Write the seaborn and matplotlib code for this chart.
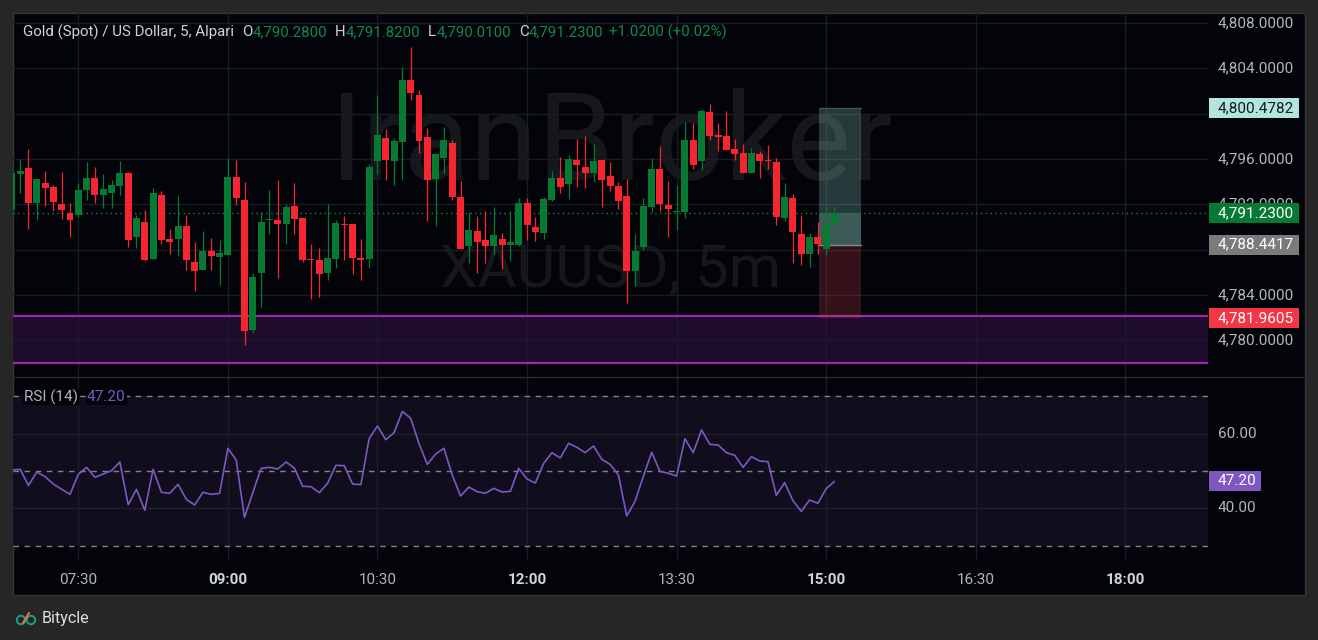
import numpy as np
import pandas as pd
import matplotlib
matplotlib.use('Agg')
import matplotlib.pyplot as plt
from matplotlib.patches import Rectangle, Circle
import seaborn as sns

# 5-minute XAUUSD candles, 06:50 .. 15:05
opens = [4791.53, 4794.71, 4795.20, 4792.12, 4793.88, 4793.53, 4792.03, 4791.24, 4791.09, 4793.29,
         4794.32, 4792.85, 4793.03, 4793.65, 4794.76, 4789.15, 4790.44, 4787.20, 4792.82, 4788.94,
         4788.97, 4790.09, 4786.91, 4786.24, 4787.88, 4787.35, 4787.53, 4794.41, 4792.38, 4780.94,
         4785.94, 4790.62, 4790.60, 4790.29, 4791.85, 4790.79, 4787.18, 4787.09, 4785.94, 4787.18,
         4790.26, 4790.26, 4787.26, 4787.18, 4795.82, 4797.85, 4795.82, 4797.50, 4802.97, 4801.65,
         4797.94, 4794.24, 4796.09, 4797.41, 4792.65, 4788.32, 4789.65, 4788.85, 4788.32, 4788.94,
         4788.41, 4788.41, 4792.12, 4790.00, 4789.47, 4792.38, 4794.32, 4793.79, 4795.91, 4795.29,
         4794.76, 4795.91, 4794.50, 4793.62, 4792.74, 4786.15, 4788.24, 4791.76, 4795.12, 4791.94,
         4791.32, 4791.32, 4797.68, 4795.82, 4800.15, 4798.12, 4798.03, 4796.88, 4796.53, 4794.76,
         4796.44, 4795.91, 4795.73, 4790.79, 4792.56, 4789.38, 4787.62, 4789.12, 4788.06, 4790.28]
highs = [4794.90, 4796.00, 4796.88, 4794.23, 4794.94, 4793.70, 4794.85, 4792.12, 4793.88, 4795.73,
         4795.29, 4794.68, 4794.15, 4795.82, 4794.85, 4791.06, 4791.50, 4793.44, 4793.18, 4789.82,
         4792.82, 4791.06, 4788.68, 4789.65, 4789.03, 4788.85, 4796.09, 4795.91, 4793.97, 4785.94,
         4791.32, 4793.26, 4794.15, 4792.03, 4793.88, 4790.79, 4788.50, 4788.15, 4792.03, 4790.62,
         4790.97, 4790.26, 4788.94, 4795.56, 4801.65, 4798.65, 4797.85, 4804.12, 4805.88, 4802.09,
         4798.74, 4796.53, 4798.82, 4797.68, 4794.06, 4791.32, 4790.97, 4791.41, 4791.76, 4789.47,
         4791.41, 4792.56, 4792.56, 4790.88, 4792.65, 4794.94, 4796.18, 4796.35, 4797.76, 4798.03,
         4797.32, 4795.91, 4795.73, 4793.97, 4794.24, 4789.38, 4792.56, 4796.09, 4797.15, 4794.06,
         4793.70, 4799.26, 4799.18, 4800.41, 4800.85, 4799.18, 4800.24, 4797.76, 4797.32, 4796.97,
         4796.71, 4797.24, 4796.09, 4793.88, 4792.91, 4791.06, 4789.47, 4790.44, 4791.85, 4791.82]
lows = [4791.40, 4793.00, 4789.85, 4790.65, 4791.88, 4791.41, 4790.74, 4789.15, 4790.91, 4792.41,
        4792.15, 4791.70, 4791.70, 4792.85, 4788.26, 4788.18, 4787.03, 4787.20, 4788.53, 4787.65,
        4787.47, 4786.24, 4784.38, 4786.24, 4786.24, 4784.91, 4787.53, 4791.97, 4779.62, 4780.68,
        4782.97, 4789.38, 4785.50, 4788.50, 4789.41, 4786.94, 4783.68, 4783.85, 4785.35, 4786.38,
        4787.09, 4785.85, 4785.32, 4786.38, 4794.68, 4794.15, 4793.70, 4794.15, 4801.20, 4796.53,
        4790.53, 4790.09, 4794.68, 4792.38, 4788.06, 4786.82, 4785.94, 4786.82, 4787.62, 4786.29,
        4787.00, 4788.32, 4788.85, 4788.76, 4788.94, 4792.29, 4793.00, 4792.47, 4793.53, 4793.44,
        4793.97, 4791.76, 4793.18, 4791.59, 4783.32, 4784.82, 4787.97, 4791.32, 4791.41, 4789.12,
        4789.74, 4790.79, 4795.12, 4795.03, 4797.68, 4796.71, 4796.79, 4795.91, 4794.76, 4794.76,
        4794.32, 4795.12, 4790.18, 4790.53, 4786.82, 4786.65, 4786.47, 4787.62, 4787.53, 4790.01]
closes = [4794.76, 4794.94, 4792.12, 4794.23, 4793.44, 4792.24, 4791.50, 4790.65, 4793.26, 4794.32,
          4792.85, 4793.35, 4793.70, 4794.76, 4788.88, 4790.79, 4787.12, 4793.00, 4788.88, 4788.71,
          4790.09, 4787.12, 4786.15, 4787.88, 4787.47, 4787.70, 4794.41, 4792.56, 4780.85, 4785.59,
          4790.44, 4790.70, 4790.29, 4791.76, 4790.70, 4787.12, 4787.12, 4785.88, 4787.26, 4790.35,
          4790.18, 4787.26, 4787.09, 4795.29, 4798.12, 4795.91, 4797.59, 4802.97, 4801.82, 4797.59,
          4794.15, 4796.44, 4797.68, 4792.65, 4788.06, 4789.74, 4788.68, 4788.32, 4789.29, 4788.41,
          4788.68, 4792.12, 4790.18, 4789.56, 4792.47, 4794.32, 4793.53, 4796.00, 4795.47, 4794.76,
          4795.82, 4794.15, 4793.62, 4792.29, 4786.15, 4787.88, 4791.85, 4795.12, 4792.03, 4791.59,
          4791.41, 4797.68, 4795.47, 4800.24, 4798.03, 4797.94, 4796.79, 4796.44, 4794.76, 4796.53,
          4795.82, 4795.82, 4790.88, 4792.65, 4789.56, 4787.62, 4789.12, 4788.50, 4790.26, 4791.23]
rsi = [50.27, 50.45, 46.16, 49.73, 48.48, 46.52, 45.09, 43.75, 49.11, 50.98,
       48.30, 49.20, 50.09, 52.41, 40.98, 45.09, 39.46, 50.45, 44.29, 44.02,
       46.43, 42.41, 40.89, 44.29, 43.75, 44.02, 56.07, 52.95, 37.59, 44.20,
       50.71, 50.98, 50.54, 52.41, 50.80, 45.89, 45.80, 44.20, 46.70, 51.52,
       51.43, 46.52, 46.34, 58.66, 62.05, 58.39, 60.27, 65.98, 64.11, 57.32,
       51.79, 54.55, 56.07, 48.93, 43.30, 45.71, 44.46, 44.02, 45.36, 44.38,
       44.55, 50.71, 47.86, 46.79, 52.05, 54.91, 53.48, 57.41, 56.34, 54.91,
       56.70, 53.13, 51.79, 48.93, 37.95, 41.88, 48.57, 55.00, 49.91, 49.38,
       48.66, 58.66, 54.91, 60.98, 57.14, 56.96, 54.91, 54.20, 50.98, 53.84,
       52.68, 52.50, 43.48, 46.88, 42.05, 39.20, 42.23, 41.34, 45.27, 47.20]

times = pd.date_range('2026-01-29 06:50', periods=len(closes), freq='5min')
tick_labels = ['07:30', '09:00', '10:30', '12:00', '13:30', '15:00', '16:30', '18:00']
bold_ticks = ['09:00', '12:00', '15:00', '18:00']
price_ticks = [4780, 4784, 4788, 4792, 4796, 4800, 4804, 4808]
rsi_grid = [40, 60]
rsi_levels = [30, 50, 70]

change, change_pct = 1.02, 0.02
target_price = 4800.4782
entry_price = 4788.4417
stop_price = 4781.9605
zone_top, zone_bottom = 4782.13, 4778.0

# colours
BG = '#02040a'
FRAME = '#262626'
GREEN = '#067a33'
RED = '#f7252f'
TXT = '#b2b5be'
GRID = '#191c24'
HDR_GREEN = '#12884a'
FS = 11

sns.set_theme(style='dark')
plt.rcParams['font.family'] = ['Roboto', 'DejaVu Sans']

W, H = 1318, 640
fig = plt.figure(figsize=(W / 100, H / 100), dpi=100, facecolor=FRAME)


def box(x0, y0, x1, y1):
    # pixel box (top-left origin) -> figure fraction rect
    return [x0 / W, 1 - y1 / H, (x1 - x0) / W, (y1 - y0) / H]


fig.patches.append(Rectangle((13 / W, 1 - 595 / H), 1292 / W, 582 / H, transform=fig.transFigure,
                             facecolor=BG, edgecolor='#363636', lw=1, zorder=-10))

ax = fig.add_axes(box(13, 13, 1208, 377))
ax_r = fig.add_axes(box(13, 377, 1208, 560))
ax_pa = fig.add_axes(box(1208, 13, 1305, 377))
ax_ra = fig.add_axes(box(1208, 377, 1305, 560))

for a in (ax, ax_r, ax_pa, ax_ra):
    a.set_facecolor('none')
    for s in a.spines.values():
        s.set_visible(False)
    a.grid(False)

x = np.arange(len(closes))
start = times[0]
tick_pos = [(pd.Timestamp(f'{start.date()} {t}') - start) / pd.Timedelta('5min') for t in tick_labels]

ax.set_xlim(0.14, 143.95)
ax_r.set_xlim(0.14, 143.95)
ax.set_ylim(4776.76, 4808.88)
ax_r.set_ylim(26.16, 75.18)
ax_pa.set_xlim(0, 97)
ax_pa.set_ylim(ax.get_ylim())
ax_ra.set_xlim(0, 97)
ax_ra.set_ylim(ax_r.get_ylim())
ax_pa.axis('off')
ax_ra.axis('off')

# grid
for p in price_ticks:
    ax.axhline(p, color=GRID, lw=1, zorder=1)
for t in tick_pos:
    ax.axvline(t, color=GRID, lw=1, zorder=1)
    ax_r.axvline(t, color='#1c1b28', lw=1, zorder=1)

# watermark
ax.text(0.5, 0.541, 'IranBroker', transform=ax.transAxes, ha='center', va='baseline',
        fontsize=88, color='#16171b', zorder=0.8)
ax.text(0.5, 0.247, 'XAUUSD, 5m', transform=ax.transAxes, ha='center', va='baseline',
        fontsize=43, color='#16171b', zorder=0.8)

# support zone
ax.axhspan(zone_bottom, zone_top, facecolor='#1f0b2c', edgecolor='none', zorder=0.5)
ax.axhline(zone_top, color='#9c27b0', lw=1.6, zorder=2)
ax.axhline(zone_bottom, color='#9c27b0', lw=1.6, zorder=2)

# long position tool
last_price = closes[-1]
px0, px1 = 97.1, 102.2
ax.add_patch(Rectangle((px0, entry_price), px1 - px0, target_price - entry_price,
                       facecolor=(146 / 255, 216 / 255, 202 / 255, 0.25), edgecolor='none', zorder=2))
ax.add_patch(Rectangle((px0, entry_price), px1 - px0, last_price - entry_price,
                       facecolor=(170 / 255, 241 / 255, 230 / 255, 0.18), edgecolor='none', zorder=2))
ax.add_patch(Rectangle((px0, stop_price), px1 - px0, entry_price - stop_price,
                       facecolor=(206 / 255, 60 / 255, 70 / 255, 0.25), edgecolor='none', zorder=2))
ax.plot([px0, px1], [entry_price, entry_price], color='#8a8a8a', lw=1, zorder=2.5)
ax.plot([px0, px1], [target_price, target_price], color='#3e5657', lw=1, zorder=2.5)

# candles
o = np.array(opens)
c = np.array(closes)
hi = np.array(highs)
lo = np.array(lows)
col = np.where(c >= o, GREEN, RED)
ax.vlines(x, lo, hi, colors=col, lw=0.9, zorder=3)
ax.bar(x, np.maximum(np.abs(c - o), 0.09), bottom=np.minimum(o, c), width=0.84,
       color=col, lw=0, zorder=4)

# current price line
ax.axhline(last_price, color='#0d8a45', lw=1, ls=(0, (1, 2.5)), zorder=2.6)

ax.set_xticks([])
ax.set_yticks([])


def tag(a, y, text, fc, tc, w=90, h=1.77):
    a.add_patch(Rectangle((1, y - h / 2), w, h, facecolor=fc, edgecolor='none', zorder=3))
    a.text(10, y, text, ha='left', va='center', fontsize=FS, color=tc, zorder=4)


# price scale (labels fully covered by a tag are left out)
tags = [(target_price, '#b2e6dc', '#131722'), (last_price, '#067a33', 'white'),
        (entry_price, '#7b7b7b', 'white'), (stop_price, '#f23645', 'white')]
for p in price_ticks:
    d = min(abs(p - t[0]) for t in tags)
    if d < 0.6:
        continue
    lab = ax_pa.text(10, p, f'{p:,.4f}', ha='left', va='center', fontsize=FS, color=TXT, zorder=1)
    if d < 1.5:
        clip = Rectangle((0, p), 97, 2, transform=ax_pa.transData)
        lab.set_clip_path(clip)
for y, fc, tc in tags:
    tag(ax_pa, y, f'{y:,.4f}', fc, tc)

# RSI pane
ax_r.axhspan(rsi_levels[0], rsi_levels[-1], facecolor='#100e1d', edgecolor='none', zorder=0.5)
for v in rsi_grid:
    ax_r.axhline(v, color='#201e2e', lw=1, zorder=1)
for v in rsi_levels:
    ax_r.axhline(v, color='#80838c', lw=1, ls=(0, (4, 4)), zorder=2)
sns.lineplot(x=x, y=rsi, ax=ax_r, color='#7e57c2', lw=1.2, zorder=3)
ax_r.set_ylabel('')
ax_r.set_yticks([])
ax_r.set_xticks(tick_pos)
ax_r.set_xticklabels(tick_labels)
ax_r.tick_params(axis='x', length=0, pad=9, labelsize=FS, labelcolor=TXT)
for lab in ax_r.get_xticklabels():
    if lab.get_text() in bold_ticks:
        lab.set_fontweight('bold')
        lab.set_color('#d1d4dc')

for v in rsi_grid:
    ax_ra.text(10, v, f'{v:.2f}', ha='left', va='center', fontsize=FS, color=TXT)
tag(ax_ra, rsi[-1], f'{rsi[-1]:.2f}', '#7e57c2', 'white', w=52, h=5.36)

# separator between panes
fig.add_artist(plt.Line2D([13 / W, 1305 / W], [1 - 377 / H, 1 - 377 / H], transform=fig.transFigure,
                          color='#2a2a2e', lw=1))

# header legend, chained left to right
renderer = fig.canvas.get_renderer()
parts = [('Gold (Spot) / US Dollar, 5, Alpari', '#d1d4dc', 8),
         ('O', '#d1d4dc', 0), (f'{opens[-1]:,.4f}', HDR_GREEN, 8),
         ('H', '#d1d4dc', 0), (f'{highs[-1]:,.4f}', HDR_GREEN, 8),
         ('L', '#d1d4dc', 0), (f'{lows[-1]:,.4f}', HDR_GREEN, 8),
         ('C', '#d1d4dc', 0), (f'{closes[-1]:,.4f}', HDR_GREEN, 6),
         (f'+{change:.4f} (+{change_pct:.2f}%)', HDR_GREEN, 0)]
cx = 23
for s, colr, gap in parts:
    t = fig.text(cx / W, 1 - 32 / H, s, color=colr, fontsize=10.8, ha='left', va='center')
    bb = t.get_window_extent(renderer)
    cx = bb.x1 + gap

rx = 24
for s, colr, gap in [('RSI (14)', TXT, 9), (f'{rsi[-1]:.2f}', '#7e57c2', 0)]:
    t = fig.text(rx / W, 1 - 397 / H, s, color=colr, fontsize=FS, ha='left', va='center',
                 bbox=dict(facecolor=BG, edgecolor='none', pad=0.5))
    bb = t.get_window_extent(renderer)
    rx = bb.x1 + gap

# footer logo
lax = fig.add_axes(box(14, 610, 38, 628))
lax.set_xlim(0, 24)
lax.set_ylim(0, 18)
lax.axis('off')
lax.add_patch(Circle((7, 8), 4.2, fill=False, edgecolor='#1f9c8b', lw=1.4))
lax.add_patch(Circle((17, 8), 4.2, fill=False, edgecolor='#1f9c8b', lw=1.4))
lax.plot([9, 15], [5, 15], color='#e8793a', lw=1.4)
fig.text(42 / W, 1 - 619 / H, 'Bitycle', color='#e0e0e0', fontsize=11.5, ha='left', va='center')

fig.savefig('out.png', dpi=100, facecolor=FRAME)
